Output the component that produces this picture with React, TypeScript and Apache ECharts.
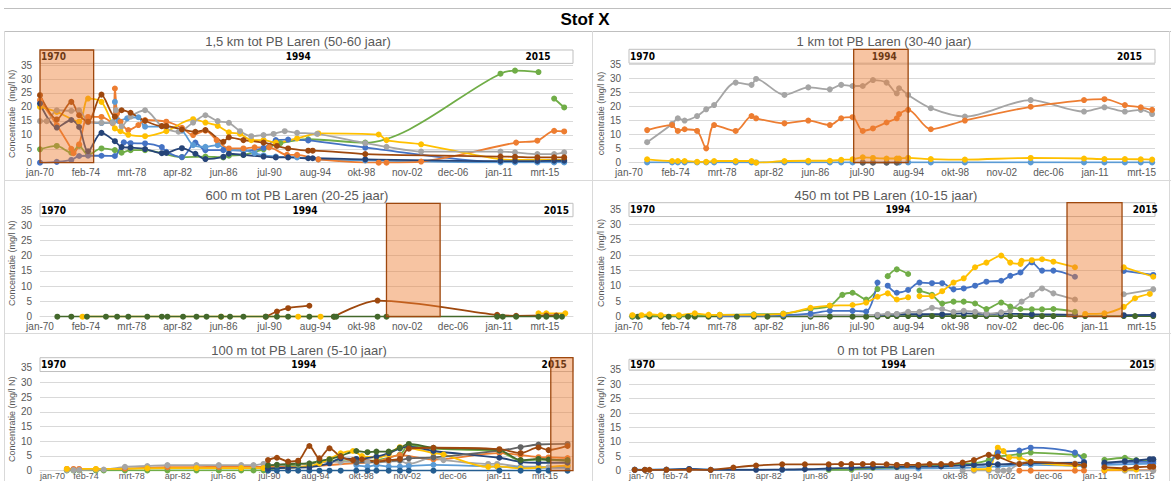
import React, { useEffect, useRef } from 'react';
import * as echarts from 'echarts';

// Each point is [decimal year, concentration]; a null value breaks the line.
type Pt = [number, number | null];

const CHART_TITLE = 'Stof X';
const MONTHS = ['jan', 'feb', 'mrt', 'apr', 'mei', 'jun', 'jul', 'aug', 'sep', 'okt', 'nov', 'dec'];
const TIMELINE_YEARS = ['1970', '1994', '2015'];

const PANEL_TITLES = [
  '1,5 km tot PB Laren (50-60 jaar)',
  '1 km tot PB Laren (30-40 jaar)',
  '600 m tot PB Laren (20-25 jaar)',
  '450 m tot PB Laren (10-15 jaar)',
  '100 m tot PB Laren (5-10 jaar)',
  '0 m tot PB Laren',
];
const Y_NAMES = [
  'Concentratie  (mg/l N)',
  'concentratie (mg/l N)',
  'Concentratie (mg/l N)',
  'Concentratie  (mg/l N)',
  'Concentratie (mg/l N)',
  'Concentratie  (mg/l N)',
];

// Travel-time window per panel, in decimal years
const HIGHLIGHTS: ([number, number] | null)[] = [
  [1970.0, 1974.8],
  [1989.8, 1994.6],
  [2001.0, 2005.8],
  [2008.6, 2013.45],
  [2015.7, 2017.87],
  null,
];

// ---- 1,5 km ----
const p1Green: Pt[] = [[1970.0, 4.8], [1971.5, 6.0], [1972.8, 3.6], [1973.5, 6.0], [1974.3, 2.8], [1975.5, 5.1], [1976.7, 4.5], [1977.3, 3.6], [1978.1, 4.5], [1979.4, 4.5], [1982.7, 2.0], [1984.8, 2.2], [1986.4, 1.9], [1986.9, 2.5], [1988.2, 2.8], [1990.0, 4.8], [1991.5, 7.0], [1994.0, 8.4], [1999.1, 7.2], [2011.2, 31.9], [2012.5, 33.0], [2014.6, 32.5], [2015.3, null], [2016.0, 23.0], [2016.9, 19.8]];
const p1Blue: Pt[] = [[1970.0, 0], [1971.5, 0.3], [1972.8, 1.0], [1973.5, 2.4], [1974.3, 2.5], [1975.5, 2.5], [1976.7, 2.4], [1977.5, 7.3], [1978.1, 7.0], [1979.4, 6.9], [1980.9, 5.6], [1981.3, 3.9], [1982.7, 2.0], [1983.9, 7.2], [1984.8, 4.5], [1986.4, 4.5], [1988.2, 4.3], [1990.0, 5.3], [1991.1, 8.1], [1992.2, 8.3], [1994.0, 8.0], [1999.1, 5.4], [2011.2, 0.3], [2012.5, 0.3], [2014.5, 0.3], [2016.0, 0.3], [2016.9, 0.3]];
const p1LightBlue: Pt[] = [[1974.3, 14.5], [1975.5, 14.2], [1976.5, 14.5], [1976.7, 21.8], [1977.0, 15.0], [1977.8, 15.9], [1978.8, 16.3], [1979.4, 12.9], [1981.3, 12.9], [1982.7, 11.5], [1983.7, 6.3], [1984.8, 5.7], [1985.9, 6.3], [1986.9, 4.5], [1988.2, 4.5], [1989.2, 3.4], [1990.0, 2.6], [1991.1, 2.2], [1993.0, 1.9], [1994.9, 1.2], [1999.1, 0.8], [2011.2, 0.1], [2012.5, 0.1], [2014.5, 0.1], [2016.0, 0.1], [2016.9, 0.1]];
const p1Orange: Pt[] = [[1970.0, 22.4], [1971.5, 13.5], [1972.8, 5.0], [1973.0, 3.4], [1973.5, 6.6], [1974.3, 16.4], [1975.5, 16.4], [1976.5, 14.1], [1976.7, 26.6], [1976.9, 17.6], [1977.2, 14.7], [1977.9, 11.7], [1978.8, 13.5], [1979.4, 15.3], [1981.3, 14.7], [1982.7, 12.5], [1983.7, 9.9], [1984.8, 11.5], [1985.8, 8.1], [1986.9, 5.1], [1988.2, 5.1], [1989.2, 5.5], [1990.5, 5.5], [1992.1, 2.8], [1993.0, 2.8], [1994.9, 1.2], [2000.3, 0], [2001.0, 0], [2004.1, 0.4], [2012.6, 7.2], [2014.5, 7.9], [2016.0, 11.4], [2016.9, 11.2]];
const p1Yellow: Pt[] = [[1970.0, 20.0], [1971.5, 18.2], [1973.5, 14.7], [1974.3, 23.0], [1975.5, 21.8], [1976.7, 12.3], [1977.2, 11.3], [1977.9, 10.0], [1979.4, 9.5], [1981.3, 11.3], [1983.7, 15.6], [1984.8, 14.4], [1985.9, 13.2], [1986.9, 10.9], [1987.9, 10.3], [1988.9, 8.1], [1990.0, 8.1], [1991.1, 7.2], [1993.0, 8.7], [1994.9, 10.5], [2000.3, 10.1], [2001.0, 8.1], [2004.1, 6.6], [2011.2, 1.2], [2012.5, 1.0], [2014.5, 1.0], [2016.0, 1.0], [2016.9, 1.0]];
const p1Gray: Pt[] = [[1970.0, 14.9], [1970.6, 14.9], [1971.5, 18.8], [1972.8, 18.6], [1973.5, 18.8], [1974.3, 14.7], [1975.5, 14.3], [1976.5, 14.3], [1976.8, 18.8], [1977.3, 13.0], [1978.1, 16.5], [1979.4, 18.8], [1980.9, 13.1], [1982.4, 11.1], [1983.7, 14.4], [1984.8, 17.0], [1985.9, 14.9], [1986.9, 14.3], [1987.9, 11.3], [1988.9, 9.5], [1990.0, 9.9], [1990.9, 10.3], [1991.9, 11.3], [1993.0, 10.7], [1994.8, 10.3], [1999.1, 7.0], [2001.0, 5.7], [2004.1, 4.0], [2011.2, 4.0], [2012.5, 3.7], [2014.5, 3.1], [2016.0, 3.1], [2016.9, 3.7]];
const p1Navy: Pt[] = [[1970.0, 21.2], [1971.5, 12.6], [1972.8, 15.3], [1973.5, 12.8], [1974.3, 4.1], [1975.5, 10.7], [1976.7, 7.7], [1977.3, 5.6], [1978.1, 5.4], [1979.4, 4.9], [1980.9, 3.4], [1981.3, 3.5], [1982.7, 5.2], [1983.9, 3.2], [1984.8, 1.3], [1986.4, 2.1], [1986.9, 3.2], [1988.2, 2.8], [1990.0, 2.2], [1991.1, 1.9], [1992.2, 1.9], [1994.0, 1.6], [1994.4, 1.6], [1999.1, 1.2], [2011.2, 0.6], [2012.5, 0.6], [2014.5, 0.6], [2016.0, 0.7], [2016.9, 0.7]];
const p1Brown: Pt[] = [[1970.0, 24.2], [1971.5, 15.5], [1972.8, 21.8], [1973.5, 17.0], [1974.3, 14.7], [1975.5, 24.4], [1976.7, 16.5], [1977.3, 18.8], [1978.1, 17.9], [1979.4, 15.0], [1980.9, 13.1], [1981.3, 13.1], [1982.7, 11.9], [1983.9, 11.1], [1984.8, 11.7], [1986.4, 7.5], [1986.9, 9.1], [1988.2, 8.1], [1990.0, 7.2], [1991.2, 6.0], [1992.2, 5.1], [1994.0, 4.3], [1994.4, 4.3], [1999.1, 3.1], [2011.2, 2.2], [2012.5, 2.1], [2014.5, 1.9], [2016.0, 1.9], [2016.9, 1.9]];

// ---- 1 km ----
const p2LightBlue: Pt[] = [[1971.6, 0.1], [1973.8, 0.1], [1974.3, 0.1], [1974.9, 0.1], [1976.0, 0.1], [1976.8, 0.1], [1977.5, 0.1], [1979.4, 0.1], [1980.8, 0.1], [1981.2, 0.1], [1983.7, 0.1], [1985.8, 0.1], [1987.7, 0.1], [1988.7, 0.1], [1989.7, 0.1], [1990.6, 0.1], [1991.5, 0.1], [1992.7, 0.1], [1993.6, 0.1], [1993.8, 0.1], [1994.6, 0.1], [1996.6, 0.1], [1999.6, 0.1], [2005.4, 0.1], [2010.1, 0.1], [2011.9, 0.1], [2013.7, 0.1], [2015.1, 0.1], [2016.1, 0.1]];
const p2DarkGray: Pt[] = [[1990.6, 0], [1991.5, 0], [1992.7, 0], [1993.6, 0]];
const p2Gray: Pt[] = [[1971.6, 7.3], [1973.8, 13.8], [1974.3, 15.8], [1974.9, 15.0], [1976.0, 16.6], [1976.8, 19.0], [1977.5, 20.5], [1979.4, 28.5], [1980.8, 27.7], [1981.2, 29.8], [1983.7, 24.1], [1985.8, 26.8], [1987.7, 26.1], [1988.7, 27.7], [1989.7, 27.3], [1990.6, 27.3], [1991.5, 29.4], [1992.7, 28.5], [1993.6, 24.7], [1993.8, 26.5], [1994.6, 24.1], [1996.6, 19.4], [1999.6, 16.4], [2005.4, 22.3], [2010.1, 18.2], [2011.9, 19.7], [2013.7, 18.2], [2015.1, 18.8], [2016.1, 17.3]];
const p2Orange: Pt[] = [[1971.6, 11.6], [1973.8, 13.4], [1974.3, 11.3], [1974.9, 11.9], [1976.0, 11.3], [1976.8, 5.1], [1977.5, 13.4], [1979.4, 11.3], [1980.8, 16.6], [1981.2, 15.8], [1983.7, 14.0], [1985.8, 15.0], [1987.7, 13.4], [1988.7, 15.8], [1989.7, 16.2], [1990.6, 11.3], [1991.5, 12.2], [1992.7, 14.3], [1993.6, 15.8], [1993.8, 17.3], [1994.6, 18.8], [1996.6, 11.9], [1999.6, 15.0], [2005.4, 19.9], [2010.1, 22.3], [2011.9, 22.6], [2013.7, 20.5], [2015.1, 19.7], [2016.1, 18.8]];
const p2Yellow: Pt[] = [[1971.6, 1.2], [1973.8, 0.6], [1974.3, 0.6], [1974.9, 0.6], [1976.0, 0.3], [1976.8, 0.3], [1977.5, 0.6], [1979.4, 0.6], [1980.8, 0.6], [1981.2, 0.0], [1983.7, 0.6], [1985.8, 0.7], [1987.7, 0.7], [1988.7, 1.0], [1989.7, 1.2], [1990.6, 1.9], [1991.5, 1.7], [1992.7, 1.5], [1993.6, 1.5], [1993.8, 1.5], [1994.6, 1.7], [1996.6, 1.3], [1999.6, 1.1], [2005.4, 1.7], [2010.1, 1.5], [2011.9, 1.3], [2013.7, 1.3], [2015.1, 1.2], [2016.1, 1.1]];

// ---- 600 m ----
const p3Yellow: Pt[] = [[1973.8, 0], [1986.2, 0], [1993.1, 0], [1995.1, 0], [2000.0, null], [2014.6, 1.1], [2015.3, 1.1], [2017.0, 1.1]];
const p3Brown: Pt[] = [[1990.2, 0], [1991.2, 1.7], [1992.2, 2.8], [1994.1, 3.6], [1995.0, null], [1996.3, 0], [2000.2, 5.3], [2010.9, 0.6], [2012.6, 0.3], [2015.3, 0.4], [2016.2, 0.4]];
const p3DarkGreen: Pt[] = [[1971.55, 0], [1972.8, 0], [1974.2, 0], [1975.9, 0], [1976.9, 0], [1977.9, 0], [1979.6, 0], [1980.9, 0], [1981.4, 0], [1982.8, 0], [1984.0, 0], [1984.9, 0], [1986.2, 0], [1987.0, 0], [1988.2, 0], [1990.2, 0], [1991.2, 0], [1992.2, 0], [1994.1, 0], [1996.3, 0], [1996.5, 0], [2000.2, 0], [2001.0, 0], [2010.9, 0], [2011.4, 0], [2012.6, 0], [2014.6, 0], [2015.3, 0], [2016.2, 0], [2016.7, 0]];

// ---- 450 m ----
const p4DarkGreen: Pt[] = [[1970.3, 0], [1970.8, 0], [1971.8, 0], [1972.8, 0], [1973.5, 0], [1974.4, 0], [1975.2, 0], [1975.8, 0], [1977.0, 0], [1978.0, 0], [1979.5, 0], [1981.0, 0], [1982.2, 0], [1983.6, 0], [1986.0, 0], [1987.7, 0], [1989.7, 0], [1990.9, 0], [1991.9, 0], [1992.8, 0.2], [1993.6, 0.2], [1994.6, 0.2], [1995.6, 0.2], [1996.7, 0.2], [1997.6, 0.2], [1998.6, 0.2], [1999.5, 0.2], [2000.5, 0.2], [2001.5, 0.2], [2002.8, 0.2], [2003.6, 0.2], [2004.5, 0.2], [2005.5, 0.2], [2006.4, 0.2], [2007.4, 0.2], [2009.3, 0.2], [2010.2, 0.2], [2011.9, 0.2], [2013.6, 0.2], [2014.6, 0.2], [2016.2, 0.2]];
const p4Navy: Pt[] = [[1991.9, 0.5], [1993.6, 0.8], [1995.6, 0.8], [1997.6, 0.8], [1999.5, 1.1], [2001.5, 0.9], [2002.8, 1.0], [2005.5, 0.8], [2009.3, 0.6], [2011.0, null], [2013.6, 0.5], [2016.2, 0.6]];
const p4Gray: Pt[] = [[1978.0, 0.3], [1986.0, 0.5], [1991.9, 0.6], [1992.8, 0.9], [1993.6, 0.9], [1994.6, 1.6], [1995.6, 1.6], [1996.7, 2.9], [1997.6, 2.5], [1998.6, 1.6], [1999.5, 1.9], [2000.5, 1.6], [2001.5, 1.0], [2002.8, 1.4], [2003.6, 2.0], [2004.6, 4.9], [2005.5, 7.1], [2006.4, 9.2], [2007.4, 7.6], [2009.3, 5.6], [2011.0, null], [2013.6, 7.3], [2016.2, 8.9]];
const p4Green: Pt[] = [[1970.3, 0.3], [1974.4, 0.3], [1978.0, 0.6], [1981.0, 0.8], [1983.6, 1.0], [1986.0, 2.5], [1987.7, 3.5], [1988.8, 7.1], [1989.7, 7.8], [1990.9, 5.6], [1991.9, 9.0], [1992.3, null], [1992.8, 13.2], [1993.6, 15.4], [1994.6, 13.9], [1995.1, null], [1995.6, 8.5], [1996.7, 7.1], [1997.6, 4.3], [1998.6, 4.9], [1999.5, 4.9], [2000.5, 4.3], [2001.5, 2.5], [2002.8, 4.6], [2003.6, 3.3], [2004.5, 2.5], [2005.5, 2.4], [2006.4, 2.4], [2007.4, 2.5], [2009.3, 1.6]];
const p4Blue: Pt[] = [[1978.0, 0.3], [1983.6, 0.5], [1986.0, 1.0], [1987.7, 1.9], [1989.7, 1.9], [1990.9, 1.7], [1991.9, 11.1], [1992.3, null], [1992.8, 10.1], [1993.6, 7.8], [1994.6, 8.7], [1995.6, 11.1], [1996.7, 10.9], [1997.6, 10.9], [1998.6, 8.9], [1999.5, 9.2], [2000.5, 10.1], [2001.5, 11.4], [2002.8, 11.7], [2003.6, 13.3], [2004.5, 14.4], [2005.5, 17.7], [2006.4, 15.0], [2007.4, 15.0], [2009.3, 13.0], [2011.0, null], [2013.6, 14.9], [2016.2, 13.6]];
const p4Yellow: Pt[] = [[1970.3, 0.5], [1971.1, 0.5], [1971.8, 0.8], [1972.8, 0.5], [1974.4, 0.5], [1975.8, 1.1], [1977.0, 0.6], [1978.0, 0.6], [1981.0, 0.6], [1983.6, 0.9], [1986.0, 2.9], [1987.7, 3.6], [1989.7, 3.8], [1990.9, 4.6], [1991.9, 6.5], [1992.8, 7.6], [1993.6, 5.6], [1994.6, 6.3], [1995.1, null], [1995.6, 6.7], [1996.7, 6.7], [1997.6, 8.3], [1998.6, 11.1], [1999.5, 12.5], [2000.5, 16.1], [2001.5, 17.6], [2002.8, 19.9], [2003.6, 17.6], [2004.5, 17.2], [2004.6, 18.2], [2005.5, 18.4], [2006.4, 18.7], [2007.4, 17.9], [2009.3, 16.1], [2011.0, null], [2013.6, 16.1], [2016.2, 13.0]];
const p4YellowLate: Pt[] = [[2010.2, 0.9], [2011.9, 1.1], [2013.6, 3.2], [2014.6, 6.0], [2015.9, 7.4]];

// ---- 100 m ----
const p5Green: Pt[] = [[1972.4, 0.1], [1973.0, 0.1], [1973.5, 0.1], [1975.0, 0.1], [1975.7, 0.1], [1977.6, 0.1], [1979.6, 0.1], [1981.4, 0.1], [1984.0, 0.1], [1986.0, 0.1], [1988.0, 0.1], [1989.1, 0.1], [1990.0, 0.1], [1992.2, 1.8], [1993.1, 2.0], [1995.9, 3.5], [1998.3, 3.0], [2002.2, 5.5], [2003.0, 8.7], [2005.2, 7.5], [2011.1, 6.5], [2013.0, 3.4], [2014.6, 3.8], [2017.2, 3.3]];
const p5Orange: Pt[] = [[1972.4, 0.6], [1973.0, 0.6], [1973.5, 0.6], [1975.0, 0.5], [1977.6, 0.7], [1979.6, 1.0], [1981.4, 1.2], [1984.0, 1.2], [1986.0, 1.3], [1988.0, 1.3], [1990.0, 1.3], [1994.1, 1.5], [1998.3, 2.6], [2000.1, 3.0], [2002.2, 5.3], [2005.2, 3.8], [2011.1, 6.0], [2013.0, 5.3], [2014.6, 4.6], [2015.5, 4.5], [2017.2, 4.3]];
const p5Gray: Pt[] = [[1972.4, 0.2], [1973.0, 0.2], [1973.5, 0.2], [1975.0, 0.4], [1975.7, 0.4], [1977.6, 1.3], [1979.6, 1.6], [1981.4, 1.9], [1984.0, 1.9], [1986.0, 1.9], [1988.0, 1.9], [1989.1, 1.9], [1990.0, 2.3], [1990.4, 2.0], [1991.2, 2.0], [1992.2, 2.2], [1993.1, 2.2], [1994.1, 2.5], [1995.0, 2.8], [1995.9, 3.0], [1996.9, 3.0], [1998.3, 3.1], [1999.3, 2.9], [2000.1, 2.8], [2001.2, 3.1], [2002.2, 3.3], [2003.0, 2.3], [2005.2, 4.5], [2006.1, 3.6], [2010.1, 2.3], [2010.9, 2.3], [2013.0, 1.4], [2014.6, 1.4], [2015.5, 1.2], [2017.2, 1.6]];
const p5LightBlue: Pt[] = [[1998.3, 1.9], [1999.3, 1.4], [2000.1, 1.9], [2001.2, 1.4], [2002.2, 1.4], [2003.0, 1.6], [2005.2, 2.0], [2010.9, 1.4], [2013.0, 1.1], [2014.6, 1.0], [2017.2, 1.0]];
const p5Yellow: Pt[] = [[1972.4, 0.6], [1975.0, 0.6], [1979.6, 0.8], [1984.0, 0.9], [1988.0, 0.9], [1990.0, 0.9], [1992.2, 1.0], [1994.1, 1.6], [1995.0, 2.5], [1995.9, 4.0], [1996.9, 5.9], [1998.0, 6.7], [1998.8, 5.0], [2000.1, 4.5], [2001.2, 5.5], [2002.2, 8.0], [2003.0, 7.8], [2005.2, 6.0], [2006.1, 5.5], [2010.1, 1.3], [2010.9, 1.5], [2013.0, 0.8], [2014.6, 1.0], [2017.2, 1.8]];
const p5Steel: Pt[] = [[1990.4, 0], [1991.2, 0], [1992.2, 0], [1993.1, 0], [1994.1, 0], [1995.0, 0], [1995.9, 0], [1996.9, 0], [1998.3, 0], [1999.3, 0], [2000.1, 0], [2001.2, 0], [2002.2, 0], [2003.0, 0], [2005.2, 0], [2011.1, 0], [2013.0, 0], [2014.6, 0], [2015.5, 0], [2017.2, 0]];
const p5Navy: Pt[] = [[1990.4, 0.8], [1992.2, 1.0], [1994.1, 1.2], [1995.9, 2.5], [1996.9, 4.2], [1998.3, 4.0], [2000.1, 4.8], [2001.2, 6.0], [2002.2, 7.6], [2003.0, 8.2], [2005.2, 6.7], [2011.1, 4.4], [2013.0, 3.0], [2014.6, 2.7], [2017.2, 2.7]];
const p5DarkGray: Pt[] = [[1998.3, 2.8], [2000.1, 3.0], [2002.2, 3.6], [2003.0, 4.2], [2005.2, 4.5], [2011.1, 6.8], [2013.0, 8.0], [2014.6, 8.9], [2017.2, 9.1]];
const p5DarkGreen: Pt[] = [[1990.4, 1.8], [1991.2, 2.0], [1992.2, 2.2], [1993.1, 2.4], [1994.1, 2.4], [1995.0, 3.3], [1995.9, 3.9], [1996.9, 5.0], [1998.3, 6.7], [1999.3, 6.3], [2000.1, 6.5], [2001.2, 6.5], [2002.2, 7.8], [2003.0, 9.1], [2005.2, 7.8], [2011.1, 7.0], [2013.0, 3.6], [2014.6, 4.0], [2015.5, 3.8], [2017.2, 3.6]];
const p5Brown: Pt[] = [[1990.4, 3.6], [1991.2, 4.4], [1992.2, 3.1], [1993.1, 3.4], [1994.1, 8.4], [1995.0, 4.2], [1995.9, 7.6], [1996.9, 4.8], [1998.0, 3.6], [1998.8, 3.9], [2000.1, 3.1], [2001.2, 3.6], [2002.2, 4.0], [2003.0, 7.5], [2005.2, 7.8], [2011.1, 7.3], [2013.0, 6.0], [2014.6, 7.9], [2015.5, 7.0], [2017.2, 8.4]];

// ---- 0 m ----
const p6LightBlue: Pt[] = [[1970.5, 0.4], [1975.3, 0.5], [1983.5, 0.3], [1989.6, 0.5], [1995.5, 0.8], [1999.4, 1.0], [2002.5, 1.5], [2005.4, 2.0], [2010.1, 1.5], [2011.0, null], [2011.9, 2.0], [2016.2, 2.5]];
const p6Orange: Pt[] = [[2004.4, 0], [2005.4, 0], [2009.3, 0], [2010.1, 0], [2011.0, null], [2011.9, 0], [2016.2, 0.2]];
const p6Gray: Pt[] = [[1999.4, 0], [2000.4, 0], [2001.7, 0], [2002.5, 0], [2003.0, 0], [2003.5, 0.2], [2004.4, 2.5], [2005.4, 3.0], [2009.3, 2.5], [2011.0, null], [2013.7, 0], [2016.2, 0]];
const p6Yellow: Pt[] = [[2000.4, 0.5], [2001.7, 0.5], [2002.5, 8.0], [2003.0, 6.8], [2003.5, 4.6], [2004.4, 4.5], [2005.4, 3.1], [2009.3, 1.8], [2010.1, 2.0], [2011.0, null], [2011.9, 0.3], [2013.7, 0.4], [2014.7, 0.4]];
const p6Green: Pt[] = [[1987.6, 0.3], [1989.6, 0.4], [1991.5, 1.0], [1993.6, 1.2], [1995.5, 1.6], [1997.5, 1.8], [1999.4, 2.3], [2000.4, 2.5], [2001.7, 3.7], [2002.5, 4.9], [2004.4, 5.7], [2005.4, 6.3], [2009.3, 5.5], [2010.1, 5.1], [2011.0, null], [2011.9, 3.8], [2013.7, 4.5], [2014.7, 3.7], [2015.9, 3.7], [2016.2, 3.7]];
const p6Blue: Pt[] = [[1999.4, 2.0], [2000.4, 2.0], [2001.7, 2.4], [2002.5, 6.3], [2004.4, 7.0], [2005.4, 8.0], [2009.3, 6.3], [2010.1, 3.1], [2011.0, null], [2011.9, 2.5], [2013.7, 3.0], [2014.7, 3.1], [2015.9, 3.1], [2016.2, 3.1]];
const p6Navy: Pt[] = [[1970.5, 0.3], [1971.4, 0.3], [1973.3, 0.4], [1975.3, 0.6], [1977.2, 0.3], [1981.2, 0.3], [1983.5, 0.4], [1985.5, 0.5], [1987.6, 0.8], [1989.6, 1.0], [1991.5, 1.2], [1993.6, 1.3], [1995.5, 1.4], [1997.5, 1.5], [1999.4, 1.8], [2000.4, 2.0], [2001.7, 2.3], [2002.5, 2.2], [2005.4, 2.6], [2010.1, 2.8], [2011.0, null], [2011.9, 2.8], [2013.7, 3.3], [2014.7, 3.5], [2015.9, 4.0], [2016.2, 4.0]];
const p6Brown: Pt[] = [[1970.5, 0.3], [1971.4, 0.3], [1971.8, 0.3], [1973.3, 0.3], [1975.3, 0.3], [1977.2, 0.3], [1979.2, 1.1], [1981.2, 1.8], [1983.5, 2.2], [1985.5, 2.2], [1987.6, 2.2], [1988.7, 2.3], [1989.6, 2.3], [1990.6, 2.3], [1991.5, 2.3], [1992.7, 2.2], [1993.6, 2.0], [1994.5, 2.0], [1995.5, 2.0], [1996.5, 2.3], [1997.5, 2.3], [1998.4, 2.3], [1999.4, 2.8], [2000.4, 3.7], [2001.7, 5.5], [2002.5, 4.9], [2004.4, 2.3], [2005.4, 3.1], [2009.3, 2.3], [2010.1, 1.8], [2011.0, null], [2011.9, 1.2], [2013.7, 0.8], [2014.7, 1.2], [2015.9, 1.4], [2016.2, 1.4]];

const COLORS = {
  blue: '#4472C4', orange: '#ED7D31', gray: '#A5A5A5', yellow: '#FFC000',
  lightBlue: '#5B9BD5', green: '#70AD47', navy: '#264478', brown: '#9E480E',
  darkGray: '#636363', steel: '#255E91', darkGreen: '#43682B',
};

type SeriesDef = { color: string; data: Pt[] };
const PANEL_SERIES: SeriesDef[][] = [
  [
    { color: COLORS.green, data: p1Green }, { color: COLORS.blue, data: p1Blue },
    { color: COLORS.lightBlue, data: p1LightBlue }, { color: COLORS.orange, data: p1Orange },
    { color: COLORS.yellow, data: p1Yellow }, { color: COLORS.gray, data: p1Gray },
    { color: COLORS.navy, data: p1Navy }, { color: COLORS.brown, data: p1Brown },
  ],
  [
    { color: COLORS.lightBlue, data: p2LightBlue }, { color: COLORS.darkGray, data: p2DarkGray },
    { color: COLORS.gray, data: p2Gray }, { color: COLORS.orange, data: p2Orange },
    { color: COLORS.yellow, data: p2Yellow },
  ],
  [
    { color: COLORS.yellow, data: p3Yellow }, { color: COLORS.brown, data: p3Brown },
    { color: COLORS.darkGreen, data: p3DarkGreen },
  ],
  [
    { color: COLORS.darkGreen, data: p4DarkGreen }, { color: COLORS.navy, data: p4Navy },
    { color: COLORS.gray, data: p4Gray }, { color: COLORS.green, data: p4Green },
    { color: COLORS.blue, data: p4Blue }, { color: COLORS.yellow, data: p4Yellow },
    { color: COLORS.yellow, data: p4YellowLate },
  ],
  [
    { color: COLORS.green, data: p5Green }, { color: COLORS.orange, data: p5Orange },
    { color: COLORS.gray, data: p5Gray }, { color: COLORS.lightBlue, data: p5LightBlue },
    { color: COLORS.yellow, data: p5Yellow }, { color: COLORS.steel, data: p5Steel },
    { color: COLORS.navy, data: p5Navy }, { color: COLORS.darkGray, data: p5DarkGray },
    { color: COLORS.darkGreen, data: p5DarkGreen }, { color: COLORS.brown, data: p5Brown },
  ],
  [
    { color: COLORS.lightBlue, data: p6LightBlue }, { color: COLORS.orange, data: p6Orange },
    { color: COLORS.gray, data: p6Gray }, { color: COLORS.yellow, data: p6Yellow },
    { color: COLORS.green, data: p6Green }, { color: COLORS.blue, data: p6Blue },
    { color: COLORS.navy, data: p6Navy }, { color: COLORS.brown, data: p6Brown },
  ],
];

// Pixel layout of the six plot areas; yMax is the top of the year strip, boxLow its bottom.
const LAYOUT = [
  { left: 40, top: 50, width: 533, height: 112.7, yMax: 40.4, boxLow: 35.6, xMax: 17418, boxEnd: 17484, cx: 298, ty: 41, yearAt: [1970, 1993.1, 2014.55], labelMargin: 5, labelSize: 10, bottomRow: false },
  { left: 629, top: 49.3, width: 526, height: 113.4, yMax: 40.35, boxLow: 35.4, xMax: 16931, boxEnd: 17111, cx: 884, ty: 41, yearAt: [1970, 1992.5, 2014.1], labelMargin: 5, labelSize: 10, bottomRow: false },
  { left: 40, top: 203.3, width: 533, height: 113.4, yMax: 37.2, boxLow: 32.8, xMax: 17418, boxEnd: 17418, cx: 297, ty: 195, yearAt: [1970, 1993.7, 2016.2], labelMargin: 5, labelSize: 10, bottomRow: false },
  { left: 629, top: 202.7, width: 526, height: 114, yMax: 37.1, boxLow: 32.6, xMax: 16931, boxEnd: 17205, cx: 886, ty: 195, yearAt: [1970, 1993.7, 2015.5], labelMargin: 5, labelSize: 10, bottomRow: false },
  { left: 40, top: 357.7, width: 533, height: 113, yMax: 38.4, boxLow: 33.7, xMax: 17418, boxEnd: 17484, cx: 299, ty: 350, yearAt: [1970, 1993.6, 2016.0], labelMargin: 1, labelSize: 9, bottomRow: true },
  { left: 629, top: 359.3, width: 526, height: 111.4, yMax: 38.7, boxLow: 35.0, xMax: 16931, boxEnd: 16996, cx: 886, ty: 350, yearAt: [1970, 1993.3, 2015.2], labelMargin: 1, labelSize: 9, bottomRow: true },
];

const FONT = "'Liberation Sans', Arial, Helvetica, sans-serif";
const NARROW = "'Liberation Sans Narrow', 'Arial Narrow', 'DejaVu Sans Condensed', 'Liberation Sans', sans-serif";
const AXIS_GREY = '#595959';
const GRID_GREY = '#D9D9D9';

const toDays = (year: number) => (year - 1970) * 365.25;
const toPoints = (pts: Pt[]) => pts.map(([y, v]) => [toDays(y), v === null ? '-' : v]);

const formatDate = (v: number) => {
  const d = new Date(Date.UTC(1970, 0, 1) + Math.round(v) * 86400000);
  return `${MONTHS[d.getUTCMonth()]}-${String(d.getUTCFullYear() % 100).padStart(2, '0')}`;
};

function buildOption() {
  const series: any[] = [];
  LAYOUT.forEach((l, i) => {
    // year strip above the plot
    series.push({
      type: 'line', xAxisIndex: i, yAxisIndex: i, data: [], silent: true,
      markArea: {
        silent: true, z: 3, label: { show: false },
        itemStyle: { color: '#FFFFFF', borderColor: '#BFBFBF', borderWidth: 1 },
        data: [[{ xAxis: 0, yAxis: l.boxLow }, { xAxis: l.boxEnd, yAxis: l.yMax }]],
      },
      markPoint: {
        silent: true, z: 4, symbol: 'circle', symbolSize: 0,
        label: {
          show: true, position: 'inside', formatter: '{b}', color: '#000',
          fontFamily: NARROW, fontWeight: 'bold', fontSize: 10,
        },
        data: TIMELINE_YEARS.map((t, k) => ({
          name: t,
          coord: [toDays(l.yearAt[k]), (l.boxLow + l.yMax) / 2],
          label: k === 0 ? { align: 'left', offset: [1, 0] } : { align: 'center' },
        })),
      },
    });
    PANEL_SERIES[i].forEach((s) => {
      series.push({
        type: 'line', xAxisIndex: i, yAxisIndex: i, silent: true,
        data: toPoints(s.data), smooth: 0.3, connectNulls: false,
        symbol: 'circle', symbolSize: 6, showSymbol: true,
        lineStyle: { color: s.color, width: 1.8 },
        itemStyle: { color: s.color },
        z: 2,
      });
    });
    const h = HIGHLIGHTS[i];
    if (h) {
      series.push({
        type: 'line', xAxisIndex: i, yAxisIndex: i, data: [], silent: true,
        markArea: {
          silent: true, z: 10, label: { show: false },
          itemStyle: { color: 'rgba(237,125,49,0.45)', borderColor: '#9E480E', borderWidth: 1.3 },
          data: [[{ xAxis: toDays(h[0]), yAxis: 0 }, { xAxis: toDays(h[1]), yAxis: l.yMax }]],
        },
      });
    }
  });

  const frameLines = [
    [4, 8.5, 1171, 8.5, '#BFBFBF'],
    [4, 31.5, 1171, 31.5, '#BFBFBF'],
    [4.5, 31, 4.5, 481, GRID_GREY],
    [592.5, 31, 592.5, 481, GRID_GREY],
    [1169.5, 31, 1169.5, 481, GRID_GREY],
    [4, 180.5, 1171, 180.5, GRID_GREY],
    [4, 333.5, 1171, 333.5, GRID_GREY],
  ];

  const graphic: any[] = [
    ...frameLines.map(([x1, y1, x2, y2, c]) => ({
      type: 'line', silent: true, shape: { x1, y1, x2, y2 }, style: { stroke: c, lineWidth: 1 },
    })),
    {
      type: 'text', x: 585, y: 19, silent: true,
      style: { text: CHART_TITLE, fill: '#000', fontFamily: FONT, fontWeight: 'bold', fontSize: 17, align: 'center', verticalAlign: 'middle' },
    },
    ...LAYOUT.map((l, i) => ({
      type: 'text', x: l.cx, y: l.ty, silent: true,
      style: { text: PANEL_TITLES[i], fill: AXIS_GREY, fontFamily: FONT, fontSize: 13, align: 'center', verticalAlign: 'middle' },
    })),
  ];

  return {
    animation: false,
    textStyle: { fontFamily: FONT },
    grid: LAYOUT.map((l) => ({ left: l.left, top: l.top, width: l.width, height: l.height, outerBoundsMode: 'none' })),
    xAxis: LAYOUT.map((l, i) => ({
      type: 'value', gridIndex: i, min: 0, max: l.xMax, interval: 1500,
      axisLine: { show: true, lineStyle: { color: GRID_GREY } },
      axisTick: { show: false }, splitLine: { show: false },
      axisLabel: {
        color: AXIS_GREY, fontSize: l.labelSize, margin: l.labelMargin, showMaxLabel: false,
        formatter: formatDate,
        ...(l.bottomRow ? { alignMinLabel: 'left' } : {}),
      },
    })),
    yAxis: LAYOUT.map((l, i) => {
      const shift = ((l.yMax - 35) / l.yMax) * l.height / 2;
      return {
        type: 'value', gridIndex: i, min: 0, max: l.yMax, interval: 5,
        axisLine: { show: false }, axisTick: { show: false },
        splitLine: { show: true, showMaxLine: false, lineStyle: { color: GRID_GREY } },
        axisLabel: {
          color: AXIS_GREY, fontSize: 10, margin: 8, showMaxLabel: false,
          formatter: (v: number) => (v > 35 ? '' : String(v)),
        },
        name: Y_NAMES[i], nameLocation: 'middle', nameGap: 16,
        nameTextStyle: { color: AXIS_GREY, fontSize: 9, padding: [0, 2 * shift, 0, 0] },
      };
    }),
    series,
    graphic,
  };
}

export default function App() {
  const ref = useRef<HTMLDivElement>(null);
  useEffect(() => {
    if (!ref.current) return;
    const chart = echarts.init(ref.current, undefined, { renderer: 'svg' });
    chart.setOption(buildOption() as any);
    return () => chart.dispose();
  }, []);
  return (
    <div
      ref={ref}
      style={{ position: 'absolute', left: 0, top: 0, width: 1171, height: 481, background: '#fff' }}
    />
  );
}
